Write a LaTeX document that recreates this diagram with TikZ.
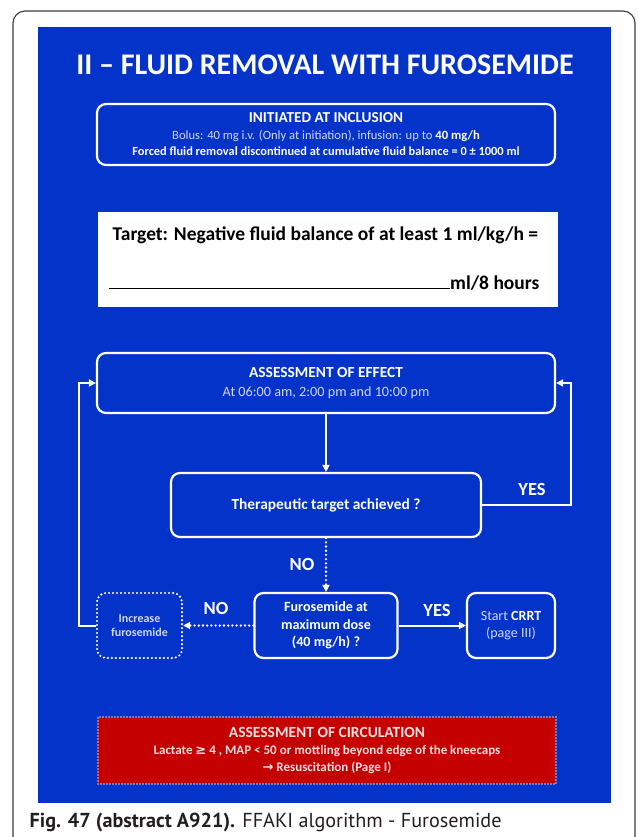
\documentclass[tikz,border=0pt]{standalone}
\usepackage{fontspec}
\setmainfont{Carlito}
\newfontfamily\symfont{DejaVu Sans}
\newfontfamily\capfont{PT Sans}
\usetikzlibrary{arrows.meta, positioning}
\definecolor{cblue}{HTML}{0433C9}
\definecolor{cred}{HTML}{C40000}
\definecolor{cpale}{HTML}{D2D8F2}
\definecolor{cframe}{HTML}{3A3A3A}
\definecolor{ccap}{HTML}{231F20}
\newcommand\fsz[2]{\fontsize{#1}{#2}\selectfont}
\tikzset{
  every picture/.style={line width=1.2pt},
  box/.style={draw=white, line width=2.2pt, rounded corners=9pt, text=white, align=center, inner sep=2pt},
  dotbox/.style={box, dash pattern=on 0pt off 4pt, line cap=round, line width=2.4pt},
  arrow/.style={-{Triangle[length=7pt, width=7pt]}, draw=white, line width=2pt},
  dotarrow/.style={arrow, dash pattern=on 0pt off 4.2pt, line cap=round, line width=2.6pt},
  answer/.style={font=\bfseries\fsz{18.5}{20}, text=white},
}

\begin{document}
\begin{tikzpicture}[x=1pt, y=-1pt]
  \useasboundingbox (0,0) rectangle (637,837);
  \draw[cframe, line width=1.1pt, rounded corners=12pt] (13,837) -- (13,11) -- (635,11) -- (635,837);
  \fill[cblue] (38,27) rectangle (611,803);

  \node[font=\bfseries\fsz{30}{34}, text=white] (title) at (325,65) {II – FLUID REMOVAL WITH FUROSEMIDE};

  \node[box, minimum width=458pt, minimum height=61pt, font=\fsz{12.6}{16.5}] (init) at (326,134.5) {%
    {\bfseries\fsz{15.2}{16.5}INITIATED AT INCLUSION}\\
    {\color{cpale}Bolus: 40 mg i.v. (Only at initiation), infusion: up to \textbf{\color{white}40 mg/h}}\\
    \textbf{\fsz{12.4}{16.5}Forced fluid removal discontinued at cumulative fluid balance = 0 ± 1000 ml}};

  % target to fill in by hand
  \node[fill=white, minimum width=460pt, minimum height=95pt, inner sep=0pt, anchor=north west] (target) at (97,211) {};
  \node[anchor=east, font=\bfseries\fsz{19.5}{22}, text=black] (tgtline) at (542,235) {Target: Negative fluid balance of at least 1 ml/kg/h =};
  \node[anchor=base east, font=\bfseries\fsz{19.5}{22}, text=black, inner sep=0pt] (tgtrule) at (540,289) {\rule{341pt}{1.2pt}ml/8 hours};

  \node[box, minimum width=458pt, minimum height=60pt, font=\fsz{14.2}{19}] (effect) at (326,383) {%
    \textbf{\fsz{15.4}{19}ASSESSMENT OF EFFECT}\\
    {\color{cpale}At 06:00 am, 2:00 pm and 10:00 pm}};
  \node[box, minimum width=310pt, minimum height=64pt, font=\bfseries\fsz{15.4}{18}] (achieved) at (326,505) {Therapeutic target achieved ?};
  \node[box, minimum width=143pt, minimum height=65pt, font=\bfseries\fsz{14.1}{17.5}] (fmax) at (326,625.5) {Furosemide at\\ maximum dose\\ (40 mg/h) ?};
  \node[dotbox, minimum width=85pt, minimum height=65pt, font=\bfseries\fsz{12}{13.5}, text=cpale] (incr) at (139.5,625.5) {Increase\\ furosemide};
  \node[box, minimum width=88pt, minimum height=65pt, font=\fsz{14}{17.5}, text=cpale] (crrt) at (511,625.5) {Start \textbf{\color{white}CRRT}\\ (page III)};

  \node[fill=cred, draw=white!75!cred, dash pattern=on 0pt off 3pt, line cap=round, line width=1.6pt,
        minimum width=458pt, minimum height=67pt, align=center, text=white!88!cred,
        font=\bfseries\fsz{13}{17}] (circ) at (327,750.5) {%
    {\fsz{15.5}{17}ASSESSMENT OF CIRCULATION}\\
    Lactate {\symfont ≥} 4 , MAP < 50 or mottling beyond edge of the kneecaps\\
    {\symfont →} Resuscitation (Page I)};

  \draw[arrow] (effect) -- (achieved);
  \draw[arrow] (achieved.east) -- ++(89,0) |- (effect.east);
  \draw[dotarrow] (achieved) -- (fmax);
  \draw[dotarrow] (fmax) -- (incr);
  \draw[arrow] (fmax) -- (crrt);
  \draw[arrow] (incr.west) -- ++(-17,0) |- (effect.west);

  \node[answer] (yesA) at (532,489) {YES};
  \node[answer] (noA) at (302,564) {NO};
  \node[answer] (noB) at (216,608) {NO};
  \node[answer] (yesB) at (437,610) {YES};

  \node[anchor=base west, font=\capfont\fsz{20.2}{24}, text=ccap, inner sep=0pt] (caption) at (29,827) {\textbf{Fig. 47 (abstract A921).} FFAKI algorithm - Furosemide};
\end{tikzpicture}
\end{document}
